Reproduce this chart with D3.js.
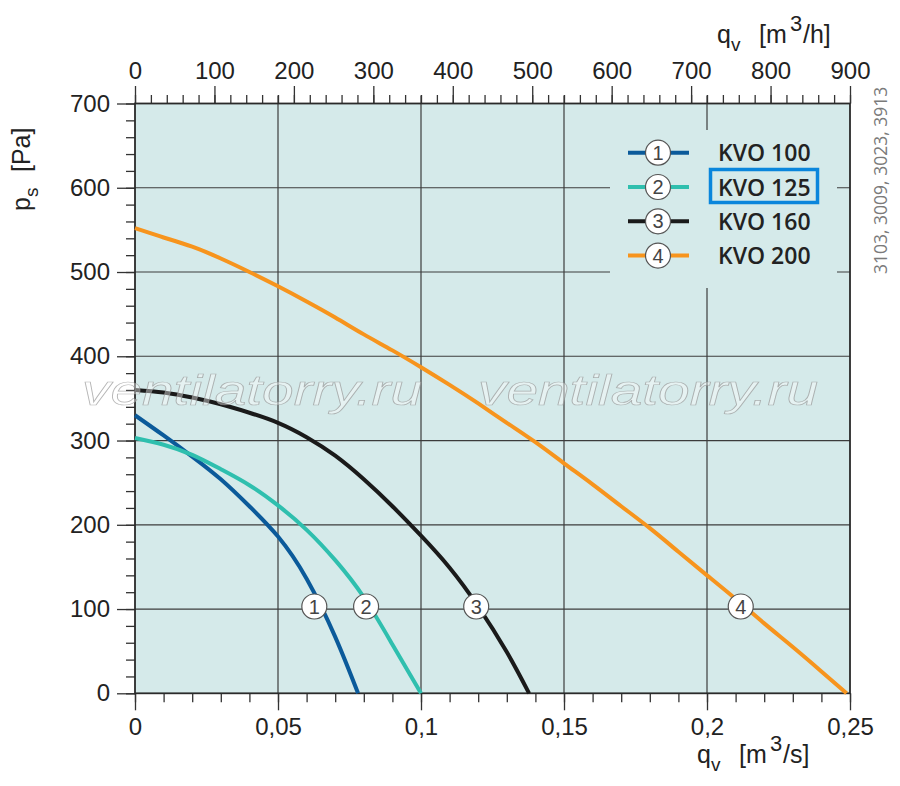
<!DOCTYPE html>
<html>
  <head>
      <meta charset="utf-8">
      <script src="https://cdnjs.cloudflare.com/ajax/libs/d3/7.8.5/d3.min.js"></script>
      <style>
        body { margin: 0; background: #fff; }
        .tick text { font-family: "Liberation Sans", Arial, sans-serif; font-size: 24px; fill: #222; }
      </style>
  </head>
  <body>
    <div id="vis"></div>
    <script type="text/javascript">

        // fan curves, q in m3/s, ps in Pa
        const series = ["KVO 100", "KVO 125", "KVO 160", "KVO 200"];
        const colors = ["#0b5a9a", "#2fbfae", "#1a1a1a", "#f7941d"];

        const q100 = [0, 0.01, 0.02, 0.03, 0.04, 0.05, 0.06, 0.07, 0.078];
        const p100 = [330, 306, 281, 254, 222, 186, 136, 67, 0];

        const q125 = [0, 0.01, 0.02, 0.03, 0.04, 0.05, 0.06, 0.07, 0.08, 0.09, 0.1];
        const p125 = [303, 295, 283, 266, 247, 223, 194, 158, 114, 58, 0];

        const q160 = [0, 0.01, 0.02, 0.03, 0.04, 0.05, 0.06, 0.07, 0.08, 0.09, 0.1, 0.11, 0.12, 0.13, 0.1378];
        const p160 = [360, 357, 351, 343, 333, 321, 304, 282, 254, 222, 187, 149, 103, 49, 0];

        const q200 = [0, 0.01, 0.02, 0.03, 0.04, 0.05, 0.06, 0.07, 0.08, 0.09, 0.1, 0.11, 0.12,
                      0.13, 0.14, 0.15, 0.16, 0.17, 0.18, 0.19, 0.2, 0.21, 0.22, 0.23, 0.24, 0.2488];
        const p200 = [552, 541, 530, 516, 500, 483, 465, 446, 426, 407, 387, 366, 344,
                      321, 298, 273, 248, 222, 196, 168, 140, 112, 83, 55, 26, 0];

        // where the numbered circles sit on each curve
        const labelQ = [0.0627, 0.0808, 0.1193, 0.2118];
        const labelP = [103, 103, 103, 103];

        const xTicks = [0, 0.05, 0.1, 0.15, 0.2, 0.25];
        const xTicksH = [0, 100, 200, 300, 400, 500, 600, 700, 800, 900];
        const yTicks = [0, 100, 200, 300, 400, 500, 600, 700];
        const codes = "3103, 3009, 3023, 3913";

        const curves = [
            q100.map((q, i) => [q, p100[i]]),
            q125.map((q, i) => [q, p125[i]]),
            q160.map((q, i) => [q, p160[i]]),
            q200.map((q, i) => [q, p200[i]])
        ];

        const svg = d3.select("#vis")
            .append("svg")
            .attr("width", 900)
            .attr("height", 786);

        const L = 135, R = 850, T = 103.5, B = 693.3;
        const bg = "#d5eaea";
        const gridCol = "#3c3c3c";

        const x = d3.scaleLinear().domain([0, 0.25]).range([L, R]);
        const xh = d3.scaleLinear().domain([0, 900]).range([L, R]);
        const y = d3.scaleLinear().domain([0, 700]).range([B, T]);

        svg.append("rect")
            .attr("x", L).attr("y", T)
            .attr("width", R - L).attr("height", B - T)
            .attr("fill", bg);

        // grid
        svg.append("g").selectAll("line")
            .data(xTicks.slice(1, -1))
            .join("line")
            .attr("x1", d => x(d)).attr("x2", d => x(d))
            .attr("y1", T - 8).attr("y2", B)
            .attr("stroke", gridCol).attr("stroke-width", 1.2);
        svg.append("g").selectAll("line")
            .data(yTicks.slice(1, -1))
            .join("line")
            .attr("x1", L).attr("x2", R)
            .attr("y1", d => y(d)).attr("y2", d => y(d))
            .attr("stroke", gridCol).attr("stroke-width", 1.2);

        // legend panel covers the grid
        svg.append("rect")
            .attr("x", 610).attr("y", 130)
            .attr("width", 227).attr("height", 158)
            .attr("fill", bg);

        // axes
        const fmt = d => String(d).replace(".", ",");
        function styleAxis(g) {
            g.select(".domain").remove();
            g.selectAll(".tick line").attr("stroke", "#333").attr("stroke-width", 1.3);
        }

        svg.append("g").attr("transform", `translate(0,${B})`)
            .call(d3.axisBottom(x).tickValues(d3.range(0, 0.2501, 0.01)).tickSize(9).tickFormat(""))
            .call(styleAxis);
        svg.append("g").attr("transform", `translate(0,${B})`)
            .call(d3.axisBottom(x).tickValues(xTicks).tickSize(17).tickPadding(8).tickFormat(fmt))
            .call(styleAxis);

        svg.append("g").attr("transform", `translate(0,${T})`)
            .call(d3.axisTop(xh).tickValues(d3.range(0, 901, 20)).tickSize(8.5).tickFormat(""))
            .call(styleAxis);
        svg.append("g").attr("transform", `translate(0,${T})`)
            .call(d3.axisTop(xh).tickValues(xTicksH).tickSize(17.5).tickPadding(7))
            .call(styleAxis);

        svg.append("g").attr("transform", `translate(${L},0)`)
            .call(d3.axisLeft(y).tickValues(d3.range(0, 701, 20)).tickSize(9).tickFormat(""))
            .call(styleAxis);
        svg.append("g").attr("transform", `translate(${L},0)`)
            .call(d3.axisLeft(y).tickValues(yTicks).tickSize(18).tickPadding(7))
            .call(styleAxis);

        // frame
        svg.append("rect")
            .attr("x", L).attr("y", T)
            .attr("width", R - L).attr("height", B - T)
            .attr("fill", "none").attr("stroke", "#2a2a2a").attr("stroke-width", 1.8);

        // curves
        const line = d3.line()
            .x(d => x(d[0]))
            .y(d => y(d[1]))
            .curve(d3.curveNatural);

        svg.append("g").selectAll("path")
            .data(curves)
            .join("path")
            .attr("d", line)
            .attr("fill", "none")
            .attr("stroke", (d, i) => colors[i])
            .attr("stroke-width", 4);

        // numbered markers
        function marker(g, cx, cy, n) {
            g.append("circle")
                .attr("cx", cx).attr("cy", cy).attr("r", 12.5)
                .attr("fill", "#fff").attr("stroke", "#555").attr("stroke-width", 1.2);
            g.append("text")
                .attr("x", cx).attr("y", cy + 7)
                .attr("text-anchor", "middle")
                .attr("font-family", "Liberation Sans, Arial, sans-serif")
                .attr("font-size", 20)
                .attr("fill", "#444")
                .text(n);
        }
        const mk = svg.append("g");
        labelQ.forEach((q, i) => marker(mk, x(q), y(labelP[i]), i + 1));

        // legend
        const lg = svg.append("g");
        const legY = [152.7, 187, 221.3, 255.6];
        series.forEach((s, i) => {
            lg.append("line")
                .attr("x1", 628).attr("x2", 689)
                .attr("y1", legY[i]).attr("y2", legY[i])
                .attr("stroke", colors[i]).attr("stroke-width", 4);
            marker(lg, 658, legY[i], i + 1);
            lg.append("text")
                .attr("x", 718).attr("y", legY[i] + 8.5)
                .attr("font-family", "Open Sans, sans-serif")
                .attr("font-weight", 600)
                .attr("font-size", 23)
                .attr("fill", "#222")
                .text(s);
        });
        lg.append("rect")
            .attr("x", 710.5).attr("y", 169.5)
            .attr("width", 107).attr("height", 33)
            .attr("fill", "none").attr("stroke", "#0a86dc").attr("stroke-width", 3.5);

        // axis titles: symbol, subscript, unit with optional superscript
        function unitTitle(tx, ty, rot, size, parts) {
            const t = svg.append("text")
                .attr("transform", `translate(${tx},${ty})` + (rot ? " rotate(-90)" : ""))
                .attr("font-family", "Liberation Sans, Arial, sans-serif")
                .attr("font-size", size)
                .attr("fill", "#222");
            parts.forEach(p => {
                t.append("tspan")
                    .attr("x", p[0]).attr("y", p[1])
                    .attr("font-size", p[2] || size)
                    .text(p[3]);
            });
        }
        unitTitle(717, 43, false, 25, [
            [0, 0, null, "q"], [14, 8, 19, "v"], [42, 0, null, "[m"], [73, -12, 22, "3"], [86, 0, null, "/h]"]
        ]);
        unitTitle(697, 763, false, 25, [
            [0, 0, null, "q"], [14, 8, 19, "v"], [42, 0, null, "[m"], [73, -12, 22, "3"], [86, 0, null, "/s]"]
        ]);
        unitTitle(30, 211, true, 25, [
            [0, 0, null, "p"], [14, 8, 19, "s"], [39, 0, null, "[Pa]"]
        ]);

        svg.append("text")
            .attr("transform", "translate(887,274) rotate(-90)")
            .attr("font-family", "Open Sans, sans-serif")
            .attr("font-size", 17.5)
            .attr("fill", "#7a7a7a")
            .text(codes);

        // watermark
        svg.append("g").selectAll("text")
            .data([82, 478])
            .join("text")
            .attr("x", d => d).attr("y", 405)
            .attr("textLength", 340)
            .attr("lengthAdjust", "spacingAndGlyphs")
            .attr("font-family", "Liberation Sans, Arial, sans-serif")
            .attr("font-style", "italic")
            .attr("font-size", 42)
            .attr("fill", "rgba(255,255,255,0.4)")
            .attr("stroke", "rgba(150,150,150,0.7)")
            .attr("stroke-width", 0.7)
            .text("ventilatorry.ru");

    </script>
  </body>
</html>
